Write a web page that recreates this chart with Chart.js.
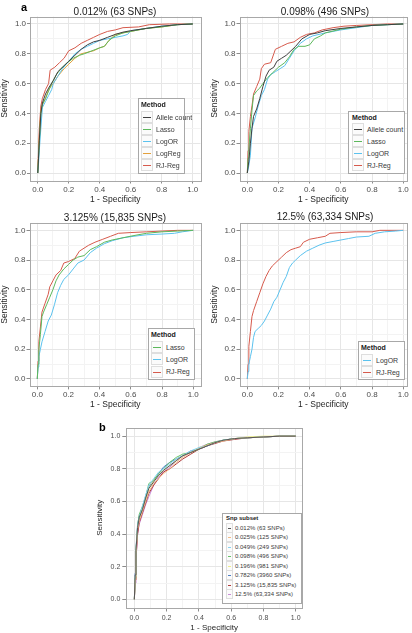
<!DOCTYPE html>
<html>
<head>
<meta charset="utf-8">
<script src="https://cdn.jsdelivr.net/npm/chart.js@4.4.0/dist/chart.umd.min.js"></script>
<style>
  body { margin: 0; background: #fff; font-family: "Liberation Sans", Arial, sans-serif; }
  #wrap { position: relative; width: 412px; height: 633px; overflow: hidden; }
  canvas { position: absolute; }
  .ptitle { position: absolute; font-size: 10px; line-height: 12px; color: #1a1a1a; transform: translateX(-50%); white-space: nowrap; }
  .tag { position: absolute; font-size: 11px; line-height: 12px; font-weight: bold; color: #000; }
  .legend { position: absolute; box-sizing: border-box; border: 1px solid #a8a8a8; background: #fff; color: #3a3a3a; }
  .legend .lt { font-weight: bold; color: #1a1a1a; white-space: nowrap; }
  .legend .row { display: flex; align-items: center; white-space: nowrap; }
  .legend .key { position: relative; display: block; box-sizing: border-box; border: 1px solid #dedede; background: #fbfbfb; flex: none; }
  .legend .key i { position: absolute; display: block; left: 1px; right: 1px; height: 1px; }
</style>
</head>
<body>
<div id="wrap">
  <canvas id="c1" width="206" height="205" style="left:0;top:0"></canvas>
  <canvas id="c2" width="206" height="205" style="left:206px;top:0"></canvas>
  <canvas id="c3" width="206" height="205" style="left:0;top:205px"></canvas>
  <canvas id="c4" width="206" height="205" style="left:206px;top:205px"></canvas>
  <canvas id="c5" width="217" height="223" style="left:95px;top:410px"></canvas>
</div>
<script>
// grid / tick values shared by every panel
const gridValues = [0, 0.1, 0.2, 0.3, 0.4, 0.5, 0.6, 0.7, 0.8, 0.9, 1];
const tickLabels = ["0.0", "", "0.2", "", "0.4", "", "0.6", "", "0.8", "", "1.0"];

// panel a, 0.012% (63 SNPs)  [1 - specificity, sensitivity]
const a1Allele = [[0,0],[0.005,0.1],[0.01,0.22],[0.02,0.4],[0.03,0.47],[0.05,0.53],[0.07,0.57],[0.1,0.62],[0.13,0.68],[0.17,0.72],[0.2,0.75],[0.24,0.79],[0.28,0.83],[0.32,0.86],[0.36,0.88],[0.4,0.89],[0.45,0.91],[0.5,0.93],[0.55,0.945],[0.6,0.955],[0.7,0.97],[0.8,0.985],[0.9,0.995],[1,1]];
const a1Lasso = [[0,0],[0.005,0.1],[0.01,0.2],[0.02,0.4],[0.03,0.46],[0.05,0.5],[0.07,0.55],[0.09,0.6],[0.12,0.66],[0.15,0.7],[0.19,0.74],[0.23,0.77],[0.27,0.79],[0.3,0.8],[0.35,0.82],[0.4,0.84],[0.43,0.85],[0.46,0.89],[0.5,0.92],[0.55,0.94],[0.6,0.95],[0.7,0.97],[0.8,0.98],[0.9,0.995],[1,1]];
const a1LogOR = [[0,0],[0.005,0.06],[0.01,0.15],[0.02,0.3],[0.03,0.44],[0.05,0.48],[0.07,0.52],[0.09,0.56],[0.1,0.6],[0.13,0.65],[0.16,0.7],[0.2,0.75],[0.24,0.8],[0.28,0.83],[0.32,0.85],[0.36,0.87],[0.4,0.89],[0.45,0.9],[0.5,0.91],[0.55,0.92],[0.58,0.93],[0.6,0.955],[0.7,0.97],[0.8,0.985],[0.9,0.995],[1,1]];
const a1LogReg = [[0,0],[0.005,0.12],[0.01,0.25],[0.02,0.42],[0.03,0.46],[0.05,0.5],[0.07,0.56],[0.1,0.6],[0.13,0.65],[0.17,0.7],[0.2,0.73],[0.24,0.77],[0.28,0.8],[0.32,0.81],[0.36,0.82],[0.4,0.84],[0.43,0.85],[0.46,0.89],[0.5,0.93],[0.55,0.94],[0.6,0.95],[0.7,0.97],[0.8,0.98],[0.9,0.995],[1,1]];
const a1RJReg = [[0,0],[0.005,0.15],[0.01,0.3],[0.02,0.45],[0.03,0.5],[0.05,0.56],[0.07,0.6],[0.08,0.69],[0.11,0.71],[0.14,0.74],[0.17,0.77],[0.2,0.82],[0.24,0.84],[0.28,0.87],[0.32,0.89],[0.36,0.91],[0.4,0.93],[0.45,0.95],[0.5,0.96],[0.55,0.975],[0.65,0.98],[0.72,0.995],[0.85,1],[1,1]];

// panel a, 0.098% (496 SNPs)
const a2Allele = [[0,0],[0.01,0.08],[0.02,0.2],[0.03,0.3],[0.04,0.38],[0.06,0.43],[0.08,0.5],[0.1,0.58],[0.12,0.65],[0.14,0.69],[0.17,0.71],[0.19,0.75],[0.22,0.77],[0.25,0.79],[0.28,0.82],[0.31,0.85],[0.35,0.9],[0.4,0.93],[0.45,0.94],[0.5,0.955],[0.6,0.97],[0.7,0.98],[0.8,0.99],[0.9,0.995],[1,1]];
const a2Lasso = [[0,0],[0.005,0.1],[0.01,0.16],[0.02,0.3],[0.03,0.42],[0.04,0.52],[0.06,0.55],[0.08,0.57],[0.1,0.6],[0.13,0.64],[0.16,0.67],[0.2,0.71],[0.24,0.74],[0.27,0.78],[0.3,0.83],[0.33,0.85],[0.37,0.85],[0.4,0.86],[0.43,0.9],[0.47,0.92],[0.5,0.94],[0.6,0.965],[0.7,0.98],[0.8,0.99],[0.9,0.995],[1,1]];
const a2LogOR = [[0,0],[0.01,0.05],[0.02,0.12],[0.03,0.3],[0.05,0.37],[0.07,0.45],[0.09,0.52],[0.11,0.56],[0.13,0.63],[0.15,0.66],[0.18,0.68],[0.21,0.7],[0.24,0.72],[0.27,0.77],[0.3,0.82],[0.34,0.87],[0.38,0.9],[0.42,0.92],[0.5,0.94],[0.6,0.96],[0.7,0.975],[0.8,0.99],[0.9,0.995],[1,1]];
const a2RJReg = [[0,0],[0.005,0.15],[0.01,0.28],[0.02,0.38],[0.03,0.45],[0.04,0.53],[0.06,0.58],[0.08,0.63],[0.09,0.7],[0.11,0.73],[0.15,0.74],[0.17,0.8],[0.18,0.83],[0.22,0.85],[0.26,0.87],[0.3,0.88],[0.34,0.91],[0.38,0.93],[0.43,0.94],[0.48,0.96],[0.55,0.975],[0.62,0.985],[0.7,0.99],[0.8,0.995],[0.9,1],[1,1]];

// panel a, 3.125% (15,835 SNPs)
const a3Lasso = [[0,0],[0.005,0.1],[0.01,0.2],[0.02,0.3],[0.03,0.42],[0.04,0.45],[0.06,0.5],[0.08,0.55],[0.1,0.6],[0.12,0.66],[0.14,0.7],[0.17,0.74],[0.2,0.77],[0.23,0.8],[0.26,0.82],[0.3,0.83],[0.34,0.87],[0.38,0.89],[0.43,0.92],[0.48,0.935],[0.55,0.95],[0.62,0.965],[0.7,0.98],[0.8,0.99],[0.9,0.995],[1,1]];
const a3LogOR = [[0,0],[0.005,0.08],[0.01,0.15],[0.02,0.2],[0.03,0.25],[0.05,0.32],[0.07,0.39],[0.09,0.43],[0.11,0.5],[0.13,0.58],[0.15,0.63],[0.17,0.67],[0.2,0.7],[0.23,0.74],[0.26,0.78],[0.3,0.8],[0.34,0.85],[0.38,0.88],[0.43,0.91],[0.48,0.93],[0.55,0.95],[0.62,0.96],[0.7,0.97],[0.8,0.975],[0.88,0.98],[0.93,0.99],[1,1]];
const a3RJReg = [[0,0],[0.005,0.12],[0.01,0.25],[0.02,0.35],[0.03,0.45],[0.05,0.51],[0.07,0.57],[0.08,0.62],[0.1,0.66],[0.12,0.7],[0.15,0.73],[0.17,0.78],[0.2,0.79],[0.24,0.81],[0.27,0.86],[0.3,0.88],[0.33,0.9],[0.37,0.92],[0.42,0.94],[0.47,0.96],[0.52,0.98],[0.6,0.985],[0.7,0.99],[0.8,0.995],[0.9,1],[1,1]];

// panel a, 12.5% (63,334 SNPs)
const a4LogOR = [[0,0],[0.005,0.05],[0.01,0.1],[0.02,0.15],[0.03,0.2],[0.04,0.28],[0.05,0.32],[0.07,0.34],[0.09,0.36],[0.11,0.39],[0.13,0.43],[0.15,0.47],[0.17,0.52],[0.19,0.55],[0.21,0.6],[0.23,0.65],[0.25,0.69],[0.27,0.75],[0.29,0.78],[0.31,0.8],[0.34,0.83],[0.38,0.86],[0.42,0.88],[0.46,0.9],[0.5,0.915],[0.55,0.925],[0.6,0.935],[0.65,0.945],[0.7,0.955],[0.78,0.96],[0.82,0.98],[0.88,0.99],[0.95,0.995],[1,1]];
const a4RJReg = [[0,0],[0.005,0.1],[0.01,0.22],[0.02,0.32],[0.03,0.42],[0.04,0.46],[0.06,0.52],[0.08,0.58],[0.1,0.64],[0.12,0.69],[0.14,0.73],[0.16,0.76],[0.19,0.79],[0.22,0.82],[0.25,0.85],[0.28,0.87],[0.31,0.88],[0.34,0.89],[0.36,0.92],[0.4,0.94],[0.45,0.95],[0.5,0.96],[0.53,0.98],[0.6,0.985],[0.7,0.99],[0.8,0.99],[0.85,1],[1,1]];

// panel b, RJ-Reg by SNP subset
const b012 = [[0,0],[0.005,0.15],[0.01,0.3],[0.02,0.44],[0.03,0.5],[0.05,0.55],[0.07,0.62],[0.09,0.68],[0.12,0.72],[0.15,0.76],[0.18,0.79],[0.22,0.82],[0.26,0.85],[0.3,0.88],[0.35,0.9],[0.4,0.92],[0.45,0.94],[0.5,0.96],[0.55,0.975],[0.62,0.985],[0.7,0.99],[0.8,0.995],[0.9,1],[1,1]];
const b025 = [[0,0],[0.005,0.12],[0.01,0.28],[0.02,0.43],[0.03,0.48],[0.05,0.54],[0.07,0.6],[0.09,0.66],[0.12,0.71],[0.15,0.74],[0.18,0.77],[0.22,0.8],[0.26,0.84],[0.3,0.87],[0.35,0.9],[0.4,0.92],[0.45,0.945],[0.5,0.96],[0.55,0.97],[0.62,0.985],[0.7,0.99],[0.8,0.995],[0.9,1],[1,1]];
const b049 = [[0,0],[0.005,0.14],[0.01,0.3],[0.02,0.45],[0.03,0.5],[0.05,0.57],[0.07,0.64],[0.09,0.7],[0.12,0.74],[0.15,0.78],[0.18,0.8],[0.22,0.83],[0.26,0.86],[0.3,0.88],[0.35,0.91],[0.4,0.93],[0.45,0.94],[0.5,0.96],[0.55,0.975],[0.62,0.985],[0.7,0.99],[0.8,0.995],[0.9,1],[1,1]];
const b098 = [[0,0],[0.005,0.13],[0.01,0.29],[0.02,0.45],[0.03,0.52],[0.05,0.57],[0.07,0.63],[0.09,0.71],[0.12,0.73],[0.15,0.77],[0.18,0.8],[0.22,0.84],[0.26,0.87],[0.3,0.89],[0.35,0.9],[0.4,0.92],[0.45,0.95],[0.5,0.965],[0.55,0.975],[0.62,0.985],[0.7,0.99],[0.8,0.995],[0.9,1],[1,1]];
const b196 = [[0,0],[0.005,0.14],[0.01,0.3],[0.02,0.44],[0.03,0.49],[0.05,0.55],[0.07,0.62],[0.09,0.68],[0.12,0.73],[0.15,0.76],[0.18,0.79],[0.22,0.82],[0.26,0.85],[0.3,0.88],[0.35,0.9],[0.4,0.93],[0.45,0.945],[0.5,0.96],[0.55,0.975],[0.62,0.985],[0.7,0.995],[0.8,1],[0.9,1],[1,1]];
const b782 = [[0,0],[0.005,0.16],[0.01,0.31],[0.02,0.46],[0.03,0.51],[0.05,0.56],[0.07,0.63],[0.09,0.69],[0.12,0.73],[0.15,0.77],[0.18,0.81],[0.22,0.84],[0.26,0.86],[0.3,0.88],[0.35,0.91],[0.4,0.92],[0.45,0.94],[0.5,0.96],[0.55,0.975],[0.62,0.985],[0.7,0.99],[0.8,0.995],[0.9,1],[1,1]];
const b3125 = [[0,0],[0.005,0.12],[0.01,0.25],[0.02,0.4],[0.03,0.47],[0.05,0.53],[0.07,0.59],[0.09,0.65],[0.12,0.7],[0.15,0.74],[0.18,0.78],[0.22,0.8],[0.26,0.83],[0.3,0.86],[0.35,0.89],[0.4,0.92],[0.45,0.94],[0.5,0.955],[0.55,0.97],[0.62,0.98],[0.7,0.99],[0.8,0.995],[0.9,1],[1,1]];
const b125 = [[0,0],[0.005,0.1],[0.01,0.24],[0.02,0.4],[0.03,0.46],[0.05,0.52],[0.07,0.58],[0.09,0.63],[0.12,0.7],[0.15,0.75],[0.18,0.78],[0.22,0.81],[0.26,0.85],[0.3,0.88],[0.35,0.9],[0.4,0.93],[0.45,0.95],[0.5,0.965],[0.55,0.975],[0.62,0.985],[0.7,0.99],[0.8,0.995],[0.9,1],[1,1]];

const methodColors = {
  "Allele count": "#3f3f3f",
  "Lasso": "#5cb85c",
  "LogOR": "#5bc2ee",
  "LogReg": "#e3a03c",
  "RJ-Reg": "#d65a4c",
};
const subsetLabels = ["0.012% (63 SNPs)", "0.025% (125 SNPs)", "0.049% (249 SNPs)", "0.098% (496 SNPs)",
  "0.196% (981 SNPs)", "0.782% (3960 SNPs)", "3.125% (15,835 SNPs)", "12.5% (63,334 SNPs)"];
const subsetColors = ["#555555", "#f3bb86", "#86d2f0", "#66c266", "#eeee88", "#4d7ec4", "#b03c3c", "#c98ad8"];

// grey box round the plot area
const framePlugin = {
  id: "frame",
  afterDatasetsDraw(chart) {
    const { ctx, chartArea: a } = chart;
    ctx.save();
    ctx.strokeStyle = "#a8a8a8";
    ctx.lineWidth = 1;
    const l = Math.round(a.left) + 0.5, t = Math.round(a.top) + 0.5;
    ctx.strokeRect(l, t, Math.round(a.right) - l + 0.5, Math.round(a.bottom) - t + 0.5);
    ctx.restore();
  },
};

function axis(o, isX) {
  return {
    type: "linear",
    min: -0.05,
    max: isX ? o.xmax : 1.05,
    afterBuildTicks: (s) => { s.ticks = gridValues.map((v) => ({ value: v })); },
    afterFit: (s) => { if (isX) s.height = o.xh; else s.width = o.yw; },
    ticks: {
      autoSkip: false,
      maxRotation: 0,
      padding: o.tickPad,
      color: "#4d4d4d",
      font: { family: "Liberation Sans", size: o.tickSize },
      callback: (v, i) => tickLabels[i],
    },
    grid: {
      color: (c) => (c.index % 2 === 0 ? "#e6e6e6" : "#f3f3f3"),
      tickColor: (c) => (c.index % 2 === 0 ? "#8c8c8c" : "rgba(0,0,0,0)"),
      tickLength: o.tickLen,
      lineWidth: 1,
    },
    border: { display: false },
    title: {
      display: true,
      text: isX ? "1 - Specificity" : "Sensitivity",
      color: "#262626",
      font: { family: "Liberation Sans", size: o.titleSize },
      padding: isX ? { top: 0, bottom: 0 } : { top: o.yTitlePad || 0, bottom: 0 },
    },
  };
}

function rocPanel(id, labels, series, colors, o) {
  new Chart(document.getElementById(id), {
    type: "scatter",
    data: {
      datasets: labels.map((lab, i) => ({
        label: lab,
        data: series[i].map((p) => ({ x: p[0], y: p[1] })),
        showLine: true,
        borderColor: colors[i],
        borderWidth: 1,
        pointRadius: 0,
        fill: false,
        tension: 0,
      })),
    },
    options: {
      responsive: false,
      animation: false,
      layout: { padding: { top: o.top, right: o.right, left: 0, bottom: 0 } },
      plugins: { legend: { display: false }, tooltip: { enabled: false } },
      scales: { x: axis(o, true), y: axis(o, false) },
    },
    plugins: [framePlugin],
  });
}

function addText(cls, text, x, y) {
  const d = document.createElement("div");
  d.className = cls;
  d.textContent = text;
  d.style.left = x + "px";
  d.style.top = y + "px";
  document.getElementById("wrap").appendChild(d);
}

// legend drawn as html box inside the plot
function addLegend(title, labels, colors, o) {
  const box = document.createElement("div");
  box.className = "legend";
  Object.assign(box.style, {
    left: o.x + "px", top: o.y + "px", width: o.w + "px", height: o.h + "px",
    fontSize: o.fs + "px", lineHeight: o.fs + "px", paddingLeft: o.pl + "px",
  });
  const kh = Math.round(o.rh);
  const lineTop = Math.floor((kh - 2) / 2);
  let html = `<div class="lt" style="height:${o.th}px;line-height:${o.th}px">${title}</div>`;
  labels.forEach((lab, i) => {
    html += `<div class="row" style="height:${o.rh}px"><span class="key" style="width:${o.kw}px;height:${kh}px">` +
      `<i style="top:${lineTop}px;background:${colors[i]}"></i></span><span style="margin-left:${o.gap}px">${lab}</span></div>`;
  });
  box.innerHTML = html;
  document.getElementById("wrap").appendChild(box);
}

const big = { tickSize: 8, titleSize: 8.5, tickLen: 3, tickPad: 1 };

let names = ["Allele count", "Lasso", "LogOR", "LogReg", "RJ-Reg"];
rocPanel("c1", names, [a1Allele, a1Lasso, a1LogOR, a1LogReg, a1RJReg], names.map((n) => methodColors[n]),
  { ...big, top: 16.5, right: 5.5, yw: 30, xh: 24.5, xmax: 1.05 });
addLegend("Method", names, names.map((n) => methodColors[n]),
  { x: 138, y: 98, w: 47, h: 76, fs: 7, pl: 2, th: 12, rh: 12, kw: 12, gap: 3 });

names = ["Allele count", "Lasso", "LogOR", "RJ-Reg"];
rocPanel("c2", names, [a2Allele, a2Lasso, a2LogOR, a2RJReg], names.map((n) => methodColors[n]),
  { ...big, top: 16.5, right: 5, yw: 33.5, xh: 24.5, xmax: 1.024, yTitlePad: 4 });
addLegend("Method", names, names.map((n) => methodColors[n]),
  { x: 348, y: 111, w: 57, h: 63, fs: 7, pl: 3, th: 11, rh: 12, kw: 12, gap: 3 });

names = ["Lasso", "LogOR", "RJ-Reg"];
rocPanel("c3", names, [a3Lasso, a3LogOR, a3RJReg], names.map((n) => methodColors[n]),
  { ...big, top: 17.9, right: 5, yw: 29.5, xh: 23.6, xmax: 1.05 });
addLegend("Method", names, names.map((n) => methodColors[n]),
  { x: 148, y: 328, w: 47, h: 52, fs: 7, pl: 2, th: 12, rh: 12.3, kw: 12, gap: 3 });

names = ["LogOR", "RJ-Reg"];
rocPanel("c4", names, [a4LogOR, a4RJReg], names.map((n) => methodColors[n]),
  { ...big, top: 17.9, right: 5, yw: 33.5, xh: 23.6, xmax: 1.024, yTitlePad: 4 });
addLegend("Method", names, names.map((n) => methodColors[n]),
  { x: 358, y: 341, w: 47, h: 39, fs: 7, pl: 2, th: 12, rh: 12, kw: 12, gap: 3 });

rocPanel("c5", subsetLabels, [b012, b025, b049, b098, b196, b782, b3125, b125], subsetColors,
  { tickSize: 7, titleSize: 8, tickLen: 4, tickPad: 2, top: 18, right: 10, yw: 31.3, xh: 25.5, xmax: 1.039 });
addLegend("Snp subset", subsetLabels, subsetColors,
  { x: 222, y: 513, w: 80, h: 91, fs: 6, pl: 3, th: 9, rh: 9.5, kw: 7, gap: 2 });

addText("ptitle", "0.012% (63 SNPs)", 115, 6);
addText("ptitle", "0.098% (496 SNPs)", 325, 6);
addText("ptitle", "3.125% (15,835 SNPs)", 115, 212);
addText("ptitle", "12.5% (63,334 SNPs)", 325, 211);
addText("tag", "a", 21, 1);
addText("tag", "b", 99, 421);
</script>
</body>
</html>
